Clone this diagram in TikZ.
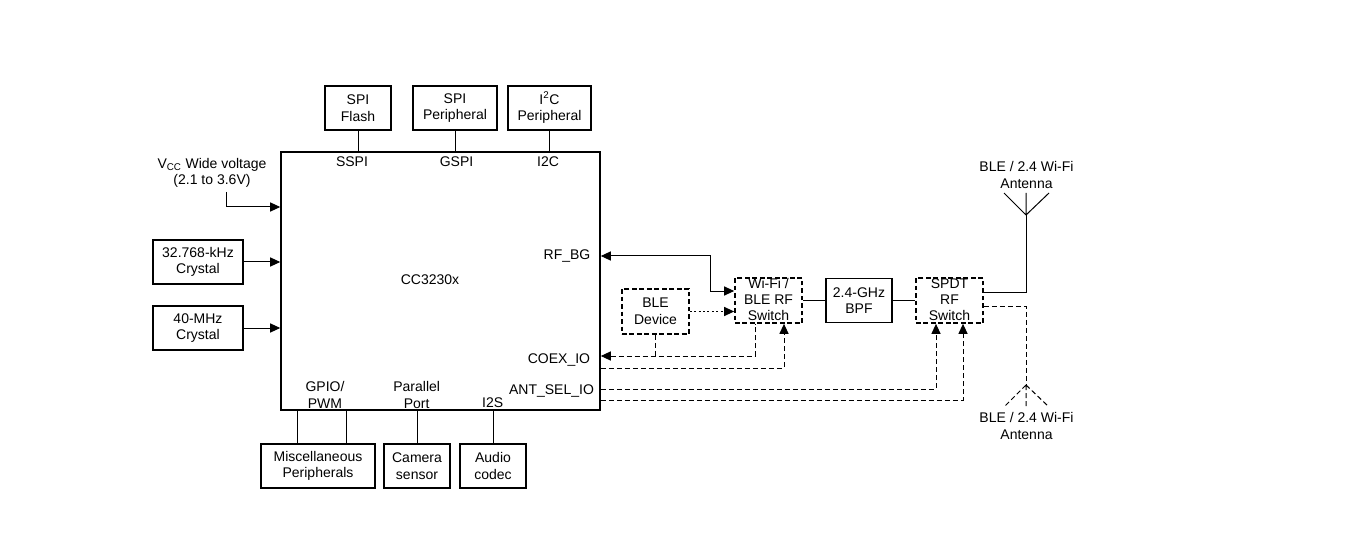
\documentclass[tikz,border=0pt]{standalone}
\usepackage{fontspec}
\setmainfont{Liberation Sans}
\usetikzlibrary{arrows.meta}
\begin{document}
\begin{tikzpicture}[x=0.75pt,y=-0.75pt,
    font=\fontsize{10.5}{12.5}\selectfont,
    blk/.style={draw,line width=1.2pt,inner sep=0pt,align=center,minimum height=33pt},
    dblk/.style={draw,line width=1.3pt,dash pattern=on 3.6pt off 2pt,inner sep=0pt,minimum width=50.25pt,minimum height=33.75pt},
    txt/.style={align=center,inner sep=0pt},
    swtxt/.style={txt,font=\fontsize{10.5}{12}\selectfont},
    tip/.style={-{Triangle[length=7.5pt,width=6.8pt]}},
    dtip/.style={tip,dash pattern=on 3.75pt off 2.25pt},
    wire/.style={line width=0.75pt}]
  \useasboundingbox (0,0) rectangle (1352,552);
  % the chip
  \node[draw,line width=1.2pt,minimum width=239.25pt,minimum height=193.5pt] (chip) at (440.5,281) {};
  \node[txt] (chipname) at (430,280) {CC3230x};
  \node[txt] (sspi) at (352,162) {SSPI};
  \node[txt] (gspi) at (456.5,162) {GSPI};
  \node[txt] (i2c) at (548,162) {I2C};
  \node[txt] (rfbgpin) at (567,256) {RF\_BG};
  \node[txt] (coexpin) at (559,360) {COEX\_IO};
  \node[txt] (antselpin) at (551.5,391) {ANT\_SEL\_IO};
  \node[txt] (gpiopin) at (325,395) {GPIO/\\PWM};
  \node[txt] (parpin) at (416.7,395) {Parallel\\Port};
  \node[txt] (i2spin) at (492.7,403) {I2S};
  % blocks round it
  \node[blk,minimum width=49.5pt] (flash) at (358,108) {SPI\\Flash};
  \node[blk,minimum width=63pt] (spiper) at (455,108) {SPI\\Peripheral};
  \node[blk,minimum width=62.25pt] (i2cper) at (549.5,108) {I\textsuperscript{2}C\\Peripheral};
  \node[txt] (vcc) at (212,173) {V\textsubscript{CC} Wide voltage\\(2.1 to 3.6V)};
  \node[blk,minimum width=67.5pt] (xtal32) at (198,262) {32.768-kHz\\Crystal};
  \node[blk,minimum width=67.5pt] (xtal40) at (198,328) {40-MHz\\Crystal};
  \node[blk,minimum width=85.5pt] (misc) at (318,466) {Miscellaneous\\Peripherals};
  \node[blk,minimum width=49.5pt] (camera) at (417,466) {Camera\\sensor};
  \node[blk,minimum width=49.5pt] (audio) at (493,466) {Audio\\codec};
  % RF path
  \node[dblk] (bledev) at (655.5,311.5) {};
  \node[txt] (bledevname) at (bledev) {BLE\\Device};
  \node[dblk] (wifisw) at (768.5,300.5) {};
  \node[swtxt] (wifiswname) at ([yshift=0.75pt]wifisw) {Wi-Fi /\\BLE RF\\Switch};
  \node[blk,minimum width=49.5pt] (bpf) at (859,300.5) {2.4-GHz\\BPF};
  \node[dblk] (spdt) at (949.5,300.5) {};
  \node[swtxt] (spdtname) at ([yshift=0.75pt]spdt) {SPDT\\RF\\Switch};
  \coordinate (ant1) at (1026,215);
  \coordinate (ant2) at (1026,385);
  \node[txt] (ant1name) at (1026.5,175) {BLE / 2.4 Wi-Fi\\Antenna};
  \node[txt] (ant2name) at (1026.5,426) {BLE / 2.4 Wi-Fi\\Antenna};
  \coordinate (vccin) at (226,192);
  \begin{scope}[wire]
    \draw (flash) -- (flash |- chip.north);
    \draw (spiper) -- (spiper |- chip.north);
    \draw (i2cper) -- (i2cper |- chip.north);
    \draw[tip] (vccin) |- (chip.west |- 0,207);
    \draw[tip] (xtal32) -- (xtal32 -| chip.west);
    \draw[tip] (xtal40) -- (xtal40 -| chip.west);
    \draw (chip.south -| 297,0) -- (misc.north -| 297,0);
    \draw (chip.south -| 346,0) -- (misc.north -| 346,0);
    \draw (chip.south -| camera) -- (camera);
    \draw (chip.south -| audio) -- (audio);
    \draw[{Triangle[length=7.5pt,width=6.8pt]}-{Triangle[length=7.5pt,width=6.8pt]}]
      (chip.east |- 0,256) -| (710,273) |- (wifisw.west |- 0,291);
    \draw[tip,dash pattern=on 1.5pt off 1.8pt] (bledev) -- (bledev -| wifisw.west);
    \draw (wifisw) -- (bpf) -- (spdt);
    \draw (spdt.east |- 0,292) -| (ant1);
    \draw (ant1) -- ++(0,-22) (ant1) -- ++(-22,-22) (ant1) -- ++(23,-22);
  \end{scope}
  \begin{scope}[wire,dash pattern=on 3.75pt off 2.25pt]
    \draw[dtip,{Triangle[length=7.5pt,width=6.8pt]}-] (chip.east |- 0,356) -| (wifisw.south -| 755,0);
    \draw (bledev.south) -- (bledev.south |- 0,356);
    \draw[dtip] (chip.east |- 0,368) -| (wifisw.south -| 784,0);
    \draw[dtip] (chip.east |- 0,389) -| (spdt.south -| 936,0);
    \draw[dtip] (chip.east |- 0,400) -| (spdt.south -| 963,0);
    \draw (spdt.east |- 0,306) -| (ant2);
    \draw (ant2) -- ++(0,22) (ant2) -- ++(-22,22) (ant2) -- ++(23,22);
  \end{scope}
\end{tikzpicture}
\end{document}
